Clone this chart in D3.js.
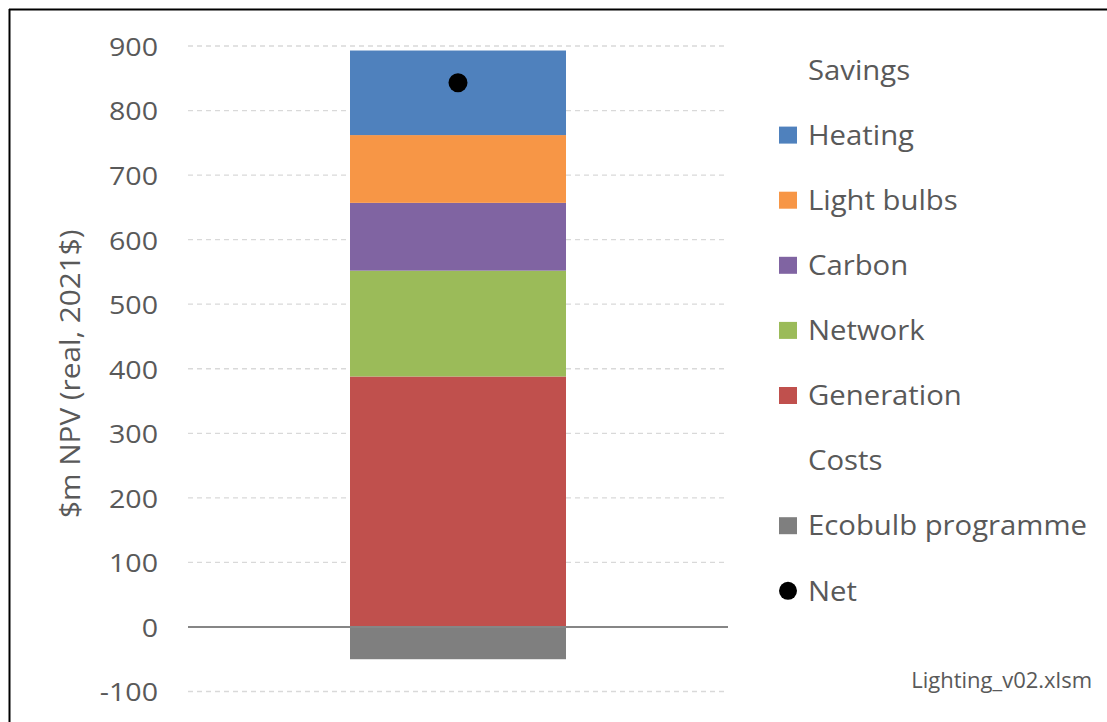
<!DOCTYPE html>
<html>
<head>
<meta charset="utf-8">
<script src="https://cdn.jsdelivr.net/npm/d3@7"></script>
<style>
  html, body { margin: 0; padding: 0; background: #fff; }
  svg { display: block; }
  text { font-family: "Open Sans", "Noto Sans", sans-serif; fill: #595959; }
</style>
</head>
<body>
<svg id="chart" width="1107" height="722"></svg>
<script>
// NPV of the lighting programme, $m (real, 2021$)
const category = ["Lighting"];
const savingsSeries = ["Generation", "Network", "Carbon", "Light bulbs", "Heating"];
const savingsValues = [388, 164, 105, 105, 131];
const costSeries = ["Ecobulb programme"];
const costValues = [-50];
const netValue = [843];
const yTicks = [-100, 0, 100, 200, 300, 400, 500, 600, 700, 800, 900];
const seriesColors = ["#C0504D", "#9BBB59", "#8064A2", "#F79646", "#4F81BD"];
const costColor = "#7F7F7F";

const svg = d3.select("#chart");

// frame lines (top and left)
svg.append("line").attr("x1", 9).attr("x2", 1107).attr("y1", 9.5).attr("y2", 9.5)
  .attr("stroke", "#000").attr("stroke-width", 2);
svg.append("line").attr("x1", 9.5).attr("x2", 9.5).attr("y1", 9).attr("y2", 722)
  .attr("stroke", "#000").attr("stroke-width", 2);

const plot = { left: 188, right: 728, top: 46, bottom: 691.5 };

const x = d3.scaleBand().domain(category).range([plot.left, plot.right]).paddingInner(0).paddingOuter(0.75);
const y = d3.scaleLinear().domain([-100, 900]).range([plot.bottom, plot.top]);

// gridlines
svg.append("g").selectAll("line").data(yTicks.filter(d => d !== 0)).join("line")
  .attr("x1", plot.left).attr("x2", plot.right)
  .attr("y1", d => y(d)).attr("y2", d => y(d))
  .attr("stroke", "#D9D9D9").attr("stroke-width", 1.3).attr("stroke-dasharray", "5,4");

// y axis labels
const yAxis = d3.axisLeft(y).tickValues(yTicks).tickSize(0).tickPadding(0).tickFormat(d => String(d));
const ya = svg.append("g").attr("transform", "translate(158,0)").call(yAxis);
ya.select(".domain").remove();
ya.selectAll("text").attr("font-size", 26).attr("fill", "#595959")
  .style("font-family", '"Open Sans", "Noto Sans", sans-serif')
  .attr("dy", "0.36em").attr("transform", "scale(1.1,1)");

// y axis title
svg.append("text")
  .attr("transform", `translate(80,${(y(900) + y(-100)) / 2 + 5}) rotate(-90) scale(1.1,1)`)
  .attr("text-anchor", "middle").attr("font-size", 27)
  .text("$m NPV (real, 2021$)");

// stacked savings
const stackData = [Object.fromEntries(savingsSeries.map((s, i) => [s, savingsValues[i]]))];
const stacked = d3.stack().keys(savingsSeries)(stackData);
const bw = x.bandwidth();
svg.append("g").selectAll("rect").data(stacked).join("rect")
  .attr("x", x(category[0])).attr("width", bw)
  .attr("y", d => y(d[0][1])).attr("height", d => y(d[0][0]) - y(d[0][1]))
  .attr("fill", (d, i) => seriesColors[i]);

// costs (below zero)
svg.append("g").selectAll("rect").data(costValues).join("rect")
  .attr("x", x(category[0])).attr("width", bw)
  .attr("y", y(0)).attr("height", d => y(d) - y(0))
  .attr("fill", costColor);

// zero line
svg.append("line").attr("x1", plot.left).attr("x2", plot.right)
  .attr("y1", y(0)).attr("y2", y(0))
  .attr("stroke", "#868686").attr("stroke-width", 2);

// net marker
svg.append("g").selectAll("circle").data(netValue).join("circle")
  .attr("cx", x(category[0]) + bw / 2).attr("cy", d => y(d)).attr("r", 9.5).attr("fill", "#000");

// legend
const legendItems = [
  { label: "Savings", type: "header" },
  { label: "Heating", type: "rect", color: seriesColors[4] },
  { label: "Light bulbs", type: "rect", color: seriesColors[3] },
  { label: "Carbon", type: "rect", color: seriesColors[2] },
  { label: "Network", type: "rect", color: seriesColors[1] },
  { label: "Generation", type: "rect", color: seriesColors[0] },
  { label: "Costs", type: "header" },
  { label: costSeries[0], type: "rect", color: costColor },
  { label: "Net", type: "dot" }
];
const lg = svg.append("g");
const row = lg.selectAll("g").data(legendItems).join("g")
  .attr("transform", (d, i) => `translate(0,${70 + i * 65.1})`);
row.filter(d => d.type === "rect").append("rect")
  .attr("x", 779).attr("y", -8.5).attr("width", 18).attr("height", 17).attr("fill", d => d.color);
row.filter(d => d.type === "dot").append("circle")
  .attr("cx", 788).attr("cy", 0).attr("r", 9).attr("fill", "#000");
row.append("text").attr("transform", "translate(808,0) scale(1.085,1)")
  .attr("dy", "0.36em").attr("font-size", 27).text(d => d.label);

// file name note
svg.append("text").attr("x", 1092).attr("y", 688).attr("text-anchor", "end")
  .attr("font-size", 22).attr("fill", "#7F7F7F").text("Lighting_v02.xlsm");
</script>
</body>
</html>
